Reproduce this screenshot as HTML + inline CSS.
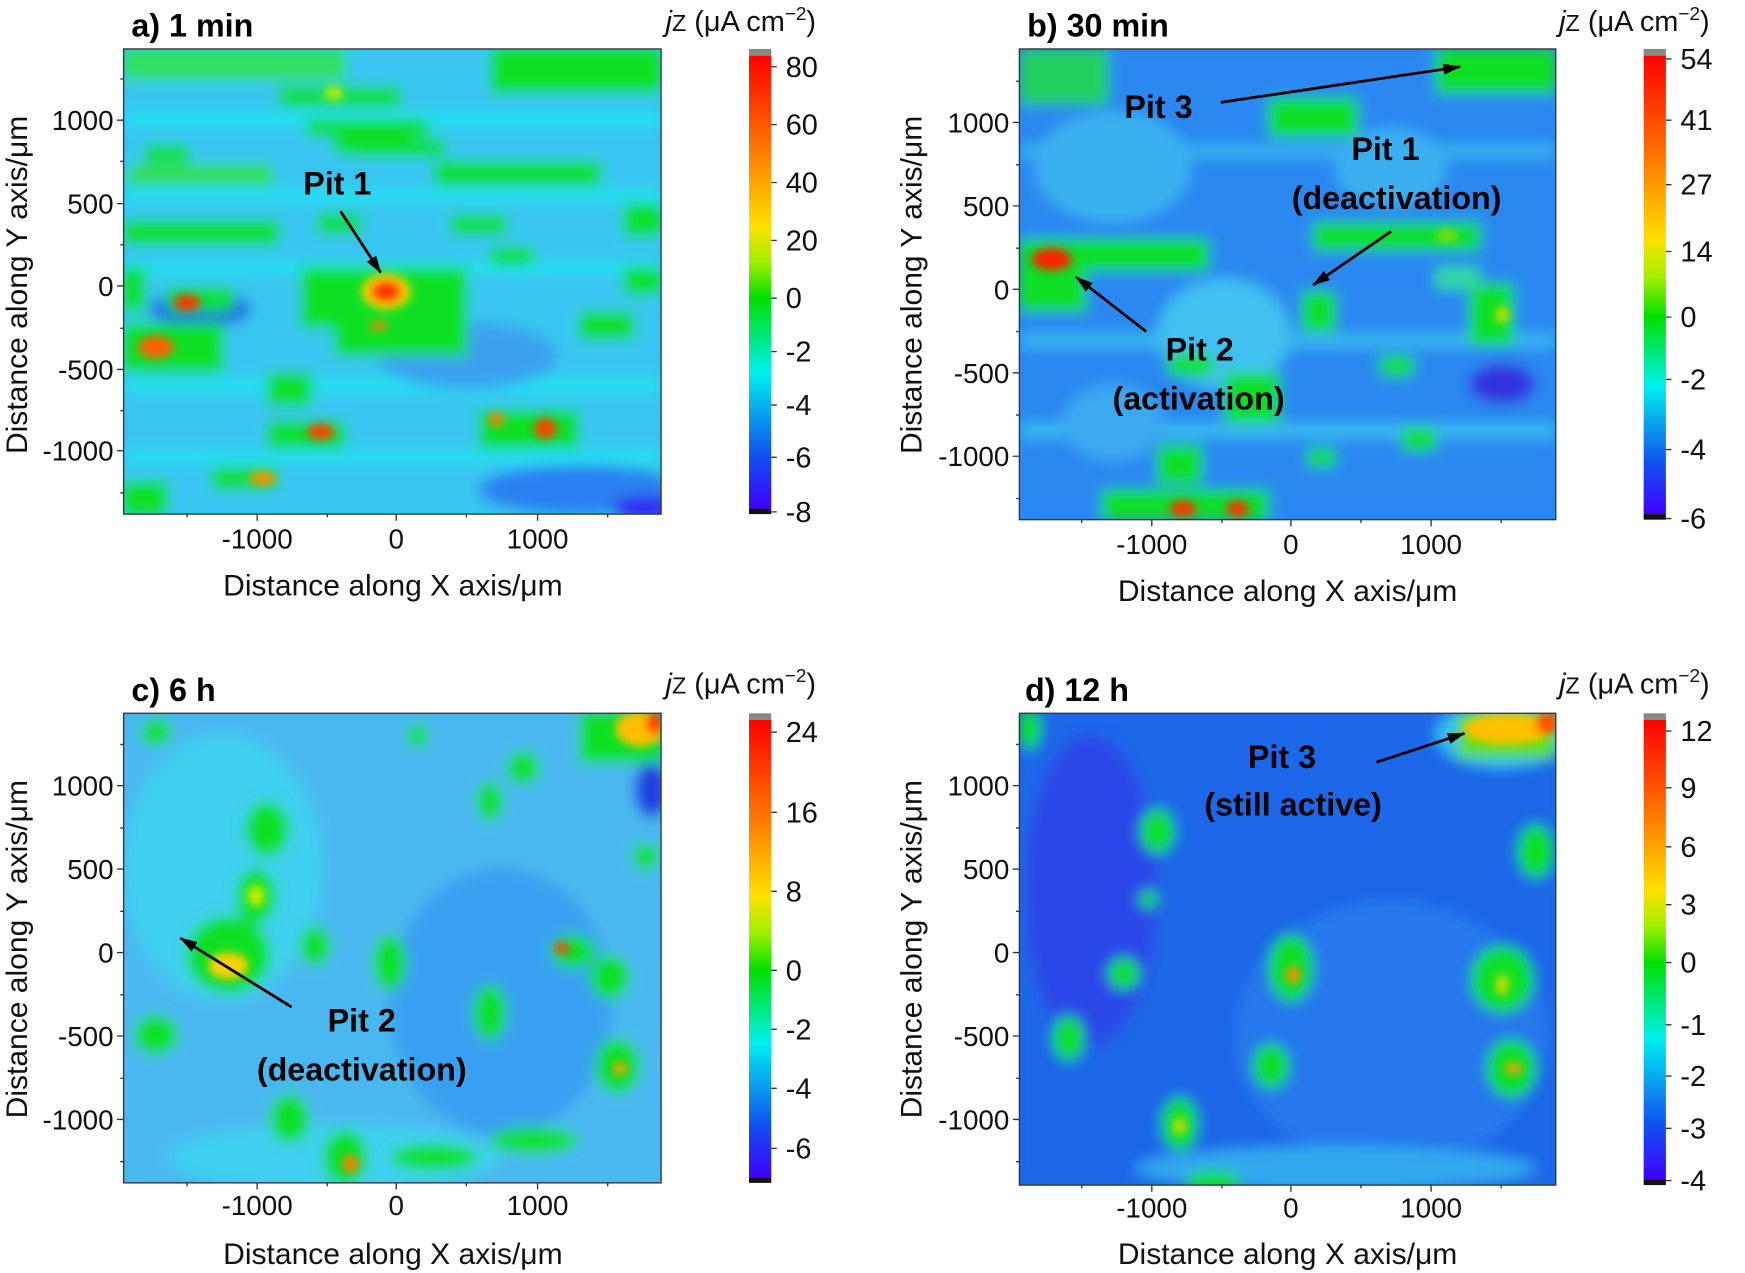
<!DOCTYPE html>
<html><head><meta charset="utf-8"><style>html,body{margin:0;padding:0;background:#fff}svg{display:block}</style></head>
<body>
<svg width="1745" height="1273" viewBox="0 0 1568 1144" xmlns="http://www.w3.org/2000/svg" font-family="Liberation Sans, sans-serif">
<defs>
<filter id="bl" x="-20%" y="-20%" width="140%" height="140%"><feGaussianBlur stdDeviation="6"/></filter>
<filter id="bs" x="-50%" y="-50%" width="200%" height="200%"><feGaussianBlur stdDeviation="4"/></filter>
<clipPath id="ca"><rect x="111" y="44" width="483" height="418"/></clipPath>
<clipPath id="cb"><rect x="916" y="44" width="482" height="423"/></clipPath>
<clipPath id="cc"><rect x="111" y="641" width="483" height="422"/></clipPath>
<clipPath id="cd"><rect x="916" y="641" width="482" height="424"/></clipPath>
<linearGradient id="ga" x1="0" y1="0" x2="0" y2="1"><stop offset="0" stop-color="#ff0000"/><stop offset=".21" stop-color="#ff7a00"/><stop offset=".375" stop-color="#ffe000"/><stop offset=".456" stop-color="#a0f000"/><stop offset=".536" stop-color="#00e000"/><stop offset=".70" stop-color="#00f0f0"/><stop offset=".884" stop-color="#1050f0"/><stop offset="1" stop-color="#4000ff"/></linearGradient>
<linearGradient id="gb" x1="0" y1="0" x2="0" y2="1"><stop offset="0" stop-color="#ff0000"/><stop offset=".228" stop-color="#ff7a00"/><stop offset=".40" stop-color="#ffe000"/><stop offset=".485" stop-color="#a0f000"/><stop offset=".57" stop-color="#00e000"/><stop offset=".72" stop-color="#00f0f0"/><stop offset=".89" stop-color="#1050f0"/><stop offset="1" stop-color="#4000ff"/></linearGradient>
<linearGradient id="gc" x1="0" y1="0" x2="0" y2="1"><stop offset="0" stop-color="#ff0000"/><stop offset=".219" stop-color="#ff7a00"/><stop offset=".383" stop-color="#ffe000"/><stop offset=".465" stop-color="#a0f000"/><stop offset=".547" stop-color="#00e000"/><stop offset=".706" stop-color="#00f0f0"/><stop offset=".887" stop-color="#1050f0"/><stop offset="1" stop-color="#4000ff"/></linearGradient>
<linearGradient id="gd" x1="0" y1="0" x2="0" y2="1"><stop offset="0" stop-color="#ff0000"/><stop offset=".211" stop-color="#ff7a00"/><stop offset=".37" stop-color="#ffe000"/><stop offset=".449" stop-color="#a0f000"/><stop offset=".528" stop-color="#00e000"/><stop offset=".693" stop-color="#00f0f0"/><stop offset=".882" stop-color="#1050f0"/><stop offset="1" stop-color="#4000ff"/></linearGradient>
<marker id="ar2" viewBox="0 0 16 10" markerWidth="16" markerHeight="10" refX="15" refY="5" orient="auto" markerUnits="userSpaceOnUse"><path d="M0,0 L16,5 L0,10 z" fill="#000"/></marker>
</defs>

<!-- Panel a -->
<g clip-path="url(#ca)">
<rect x="111" y="44" width="483" height="418" fill="#30c8f0"/>
<g filter="url(#bl)">
<rect x="111" y="44" width="483" height="418" fill="#38c4f0"/>
<rect x="111" y="100" width="483" height="14" fill="#20e0f0"/>
<rect x="111" y="170" width="483" height="12" fill="#20e0f0"/>
<rect x="111" y="235" width="483" height="12" fill="#20e0f0"/>
<rect x="111" y="340" width="483" height="14" fill="#20e0f0"/>
<rect x="111" y="405" width="483" height="12" fill="#20e0f0"/>
<ellipse cx="180" cy="278" rx="45" ry="16" fill="#2060e8"/>
<ellipse cx="420" cy="320" rx="80" ry="30" fill="#3aa0f0"/>
<ellipse cx="520" cy="440" rx="90" ry="22" fill="#2a80f0"/>
<ellipse cx="580" cy="456" rx="30" ry="10" fill="#3020f0"/>
<rect x="111" y="44" width="200" height="28" fill="#30e060"/>
<rect x="440" y="44" width="154" height="40" fill="#10e020"/>
<rect x="250" y="78" width="110" height="18" fill="#10e020"/>
<rect x="275" y="107" width="110" height="16" fill="#10e020"/>
<rect x="300" y="123" width="70" height="16" fill="#10e020"/>
<rect x="130" y="130" width="40" height="16" fill="#10e020"/>
<rect x="320" y="125" width="80" height="16" fill="#10e020"/>
<rect x="390" y="145" width="150" height="22" fill="#10e020"/>
<rect x="115" y="148" width="130" height="18" fill="#30e040"/>
<rect x="111" y="198" width="140" height="22" fill="#10e020"/>
<rect x="285" y="192" width="40" height="18" fill="#10e020"/>
<rect x="405" y="193" width="50" height="18" fill="#10e020"/>
<rect x="440" y="222" width="40" height="16" fill="#10e020"/>
<rect x="560" y="183" width="34" height="30" fill="#10e020"/>
<rect x="270" y="240" width="150" height="55" fill="#10e020"/>
<rect x="300" y="280" width="120" height="40" fill="#10e020"/>
<rect x="150" y="258" width="60" height="22" fill="#10e020"/>
<rect x="111" y="290" width="90" height="45" fill="#10e020"/>
<rect x="111" y="240" width="20" height="40" fill="#10e020"/>
<rect x="520" y="280" width="50" height="25" fill="#10e020"/>
<rect x="240" y="335" width="40" height="30" fill="#10e020"/>
<rect x="240" y="378" width="70" height="25" fill="#10e020"/>
<rect x="430" y="368" width="90" height="35" fill="#10e020"/>
<rect x="190" y="420" width="60" height="20" fill="#10e020"/>
<rect x="111" y="432" width="40" height="30" fill="#10e020"/>
<rect x="560" y="240" width="34" height="25" fill="#10e020"/>
</g>
<g filter="url(#bs)">
<ellipse cx="347" cy="262" rx="22" ry="16" fill="#ffd000"/>
<ellipse cx="347" cy="262" rx="14" ry="10" fill="#ff3000"/>
<ellipse cx="168" cy="272" rx="12" ry="7" fill="#ff3000"/>
<ellipse cx="140" cy="312" rx="16" ry="10" fill="#ff6000"/>
<ellipse cx="288" cy="388" rx="12" ry="7" fill="#ff4000"/>
<ellipse cx="490" cy="385" rx="10" ry="9" fill="#ff4000"/>
<ellipse cx="446" cy="377" rx="7" ry="6" fill="#ff8000"/>
<ellipse cx="236" cy="430" rx="12" ry="6" fill="#ff9000"/>
<ellipse cx="340" cy="293" rx="8" ry="4" fill="#ff8000"/>
<ellipse cx="300" cy="84" rx="8" ry="6" fill="#c0f000"/>
</g>
</g>
<rect x="111" y="44" width="483" height="418" fill="none" stroke="#333" stroke-width="1.2"/>

<!-- Panel b -->
<g clip-path="url(#cb)">
<rect x="916" y="44" width="482" height="423" fill="#2a88f0"/>
<g filter="url(#bl)">
<rect x="916" y="44" width="482" height="423" fill="#2a88f0"/>
<rect x="916" y="130" width="482" height="12" fill="#38b0f0"/>
<rect x="916" y="300" width="482" height="12" fill="#38b8f0"/>
<rect x="916" y="380" width="482" height="14" fill="#38b8f0"/>
<ellipse cx="1000" cy="150" rx="70" ry="50" fill="#3ab0f0"/>
<ellipse cx="1100" cy="300" rx="60" ry="50" fill="#40c0f0"/>
<ellipse cx="1250" cy="150" rx="50" ry="35" fill="#3ab0f0"/>
<ellipse cx="1350" cy="345" rx="30" ry="18" fill="#3030e0"/>
<ellipse cx="1000" cy="380" rx="45" ry="35" fill="#3aa8f0"/>
<rect x="916" y="44" width="80" height="50" fill="#20d060"/>
<rect x="1290" y="44" width="108" height="40" fill="#10e020"/>
<rect x="1140" y="88" width="80" height="35" fill="#10e020"/>
<rect x="916" y="215" width="170" height="28" fill="#10e020"/>
<rect x="916" y="235" width="60" height="45" fill="#10e020"/>
<rect x="1180" y="200" width="150" height="25" fill="#10e020"/>
<rect x="1170" y="262" width="30" height="36" fill="#10e020"/>
<rect x="1320" y="255" width="40" height="55" fill="#10e020"/>
<rect x="1100" y="335" width="50" height="45" fill="#10e020"/>
<rect x="1050" y="318" width="40" height="20" fill="#10e020"/>
<rect x="1240" y="320" width="30" height="18" fill="#10e020"/>
<rect x="1040" y="400" width="40" height="35" fill="#10e020"/>
<rect x="990" y="440" width="150" height="27" fill="#10e020"/>
<rect x="1175" y="403" width="25" height="16" fill="#10e020"/>
<rect x="1260" y="385" width="30" height="20" fill="#10e020"/>
<rect x="1290" y="240" width="40" height="20" fill="#30d8a0"/>
</g>
<g filter="url(#bs)">
<ellipse cx="945" cy="233" rx="18" ry="10" fill="#ff2000"/>
<ellipse cx="1063" cy="457" rx="12" ry="7" fill="#ff3000"/>
<ellipse cx="1112" cy="457" rx="10" ry="7" fill="#ff3000"/>
<ellipse cx="1350" cy="283" rx="6" ry="8" fill="#c0e000"/>
<ellipse cx="1300" cy="212" rx="10" ry="5" fill="#90e000"/>
</g>
</g>
<rect x="916" y="44" width="482" height="423" fill="none" stroke="#333" stroke-width="1.2"/>

<!-- Panel c -->
<g clip-path="url(#cc)">
<rect x="111" y="641" width="483" height="422" fill="#48b8f0"/>
<g filter="url(#bl)">
<rect x="111" y="641" width="483" height="422" fill="#48b8f0"/>
<ellipse cx="450" cy="900" rx="100" ry="120" fill="#38a0f0"/>
<ellipse cx="200" cy="780" rx="90" ry="120" fill="#40d0f0"/>
<ellipse cx="300" cy="1040" rx="150" ry="30" fill="#40d0f0"/>
<ellipse cx="585" cy="710" rx="15" ry="25" fill="#2040e0"/>
<rect x="520" y="641" width="74" height="45" fill="#10e020"/>
<ellipse cx="140" cy="658" rx="14" ry="12" fill="#10e020"/>
<ellipse cx="240" cy="745" rx="20" ry="25" fill="#10e020"/>
<ellipse cx="230" cy="805" rx="18" ry="25" fill="#10e020"/>
<ellipse cx="205" cy="858" rx="38" ry="35" fill="#10e020"/>
<ellipse cx="140" cy="930" rx="20" ry="18" fill="#10e020"/>
<ellipse cx="283" cy="850" rx="14" ry="18" fill="#10e020"/>
<ellipse cx="350" cy="865" rx="15" ry="25" fill="#10e020"/>
<ellipse cx="440" cy="910" rx="15" ry="25" fill="#10e020"/>
<ellipse cx="440" cy="720" rx="12" ry="18" fill="#10e020"/>
<ellipse cx="470" cy="690" rx="15" ry="15" fill="#10e020"/>
<ellipse cx="515" cy="855" rx="20" ry="15" fill="#10e020"/>
<ellipse cx="548" cy="878" rx="18" ry="20" fill="#10e020"/>
<ellipse cx="555" cy="958" rx="20" ry="25" fill="#10e020"/>
<ellipse cx="260" cy="1005" rx="18" ry="22" fill="#10e020"/>
<ellipse cx="310" cy="1040" rx="20" ry="25" fill="#10e020"/>
<ellipse cx="390" cy="1040" rx="40" ry="12" fill="#10e020"/>
<ellipse cx="480" cy="1025" rx="40" ry="12" fill="#10e020"/>
<ellipse cx="375" cy="661" rx="10" ry="10" fill="#10e020"/>
<ellipse cx="580" cy="770" rx="12" ry="12" fill="#10e020"/>
</g>
<g filter="url(#bs)">
<ellipse cx="575" cy="655" rx="22" ry="16" fill="#ffc000"/>
<ellipse cx="588" cy="650" rx="8" ry="10" fill="#ff4000"/>
<ellipse cx="205" cy="868" rx="18" ry="12" fill="#ffd000"/>
<ellipse cx="505" cy="852" rx="7" ry="5" fill="#ff4000"/>
<ellipse cx="557" cy="960" rx="6" ry="6" fill="#ffa000"/>
<ellipse cx="315" cy="1046" rx="7" ry="8" fill="#ff8000"/>
<ellipse cx="230" cy="805" rx="8" ry="10" fill="#c0f000"/>
</g>
</g>
<rect x="111" y="641" width="483" height="422" fill="none" stroke="#333" stroke-width="1.2"/>

<!-- Panel d -->
<g clip-path="url(#cd)">
<rect x="916" y="641" width="482" height="424" fill="#1e68e8"/>
<g filter="url(#bl)">
<rect x="916" y="641" width="482" height="424" fill="#1e68e8"/>
<ellipse cx="980" cy="800" rx="60" ry="140" fill="#2a48e8"/>
<ellipse cx="1250" cy="930" rx="140" ry="120" fill="#2878ec"/>
<ellipse cx="1200" cy="1050" rx="180" ry="20" fill="#30a8f0"/>
<ellipse cx="1350" cy="660" rx="60" ry="30" fill="#30c0f0"/>
<rect x="1310" y="641" width="88" height="40" fill="#60e000"/>
<ellipse cx="925" cy="655" rx="10" ry="18" fill="#10e020"/>
<ellipse cx="1040" cy="747" rx="15" ry="20" fill="#10e020"/>
<ellipse cx="1032" cy="808" rx="8" ry="8" fill="#10e020"/>
<ellipse cx="1010" cy="875" rx="14" ry="14" fill="#10e020"/>
<ellipse cx="1160" cy="870" rx="20" ry="30" fill="#10e020"/>
<ellipse cx="1350" cy="880" rx="28" ry="30" fill="#10e020"/>
<ellipse cx="960" cy="933" rx="14" ry="20" fill="#10e020"/>
<ellipse cx="1142" cy="958" rx="16" ry="20" fill="#10e020"/>
<ellipse cx="1358" cy="960" rx="22" ry="26" fill="#10e020"/>
<ellipse cx="1380" cy="765" rx="16" ry="24" fill="#10e020"/>
<ellipse cx="1060" cy="1010" rx="16" ry="24" fill="#10e020"/>
<ellipse cx="1090" cy="1062" rx="25" ry="10" fill="#10e020"/>
</g>
<g filter="url(#bs)">
<ellipse cx="1355" cy="655" rx="40" ry="14" fill="#ffc000"/>
<ellipse cx="1390" cy="650" rx="10" ry="10" fill="#ff5000"/>
<ellipse cx="1162" cy="876" rx="6" ry="8" fill="#ff9000"/>
<ellipse cx="1360" cy="960" rx="8" ry="5" fill="#ffa000"/>
<ellipse cx="1350" cy="885" rx="6" ry="10" fill="#c0e000"/>
<ellipse cx="1060" cy="1012" rx="6" ry="8" fill="#c0e000"/>
</g>
</g>
<rect x="916" y="641" width="482" height="424" fill="none" stroke="#333" stroke-width="1.2"/>

<!-- Axes ticks -->
<g stroke="#333" stroke-width="1.2">
<path d="M111,108h-6M111,183h-6M111,257h-6M111,332h-6M111,405h-6M111,71h-3M111,145h-3M111,220h-3M111,295h-3M111,369h-3M111,443h-3"/>
<path d="M231,462v6M356,462v6M483,462v6M168,462v3M294,462v3M419,462v3M546,462v3"/>
<path d="M916,110h-6M916,185h-6M916,260h-6M916,335h-6M916,410h-6M916,73h-3M916,148h-3M916,223h-3M916,298h-3M916,373h-3M916,448h-3"/>
<path d="M1035,467v6M1160,467v6M1286,467v6M972,467v3M1098,467v3M1223,467v3M1349,467v3"/>
<path d="M111,706h-6M111,781h-6M111,856h-6M111,931h-6M111,1006h-6M111,669h-3M111,744h-3M111,819h-3M111,894h-3M111,969h-3M111,1044h-3"/>
<path d="M231,1063v6M356,1063v6M483,1063v6M168,1063v3M294,1063v3M419,1063v3M546,1063v3"/>
<path d="M916,706h-6M916,781h-6M916,856h-6M916,931h-6M916,1006h-6M916,669h-3M916,744h-3M916,819h-3M916,894h-3M916,969h-3M916,1044h-3"/>
<path d="M1035,1065v6M1160,1065v6M1286,1065v6M972,1065v3M1098,1065v3M1223,1065v3M1349,1065v3"/>
</g>

<g font-size="25" fill="#111">
<g text-anchor="end">
<text x="102" y="117">1000</text><text x="102" y="192">500</text><text x="102" y="266">0</text><text x="102" y="341">-500</text><text x="102" y="414">-1000</text>
<text x="907" y="119">1000</text><text x="907" y="194">500</text><text x="907" y="269">0</text><text x="907" y="344">-500</text><text x="907" y="419">-1000</text>
<text x="102" y="715">1000</text><text x="102" y="790">500</text><text x="102" y="865">0</text><text x="102" y="940">-500</text><text x="102" y="1015">-1000</text>
<text x="907" y="715">1000</text><text x="907" y="790">500</text><text x="907" y="865">0</text><text x="907" y="940">-500</text><text x="907" y="1015">-1000</text>
</g>
<g text-anchor="middle">
<text x="231" y="493">-1000</text><text x="356" y="493">0</text><text x="483" y="493">1000</text>
<text x="1035" y="498">-1000</text><text x="1160" y="498">0</text><text x="1286" y="498">1000</text>
<text x="231" y="1092">-1000</text><text x="356" y="1092">0</text><text x="483" y="1092">1000</text>
<text x="1035" y="1094">-1000</text><text x="1160" y="1094">0</text><text x="1286" y="1094">1000</text>
</g>
<g text-anchor="middle" font-size="27">
<text x="353" y="535">Distance along X axis/μm</text>
<text x="1157" y="540">Distance along X axis/μm</text>
<text x="353" y="1136">Distance along X axis/μm</text>
<text x="1157" y="1136">Distance along X axis/μm</text>
<text transform="translate(24,256) rotate(-90)">Distance along Y axis/μm</text>
<text transform="translate(828,256) rotate(-90)">Distance along Y axis/μm</text>
<text transform="translate(24,853) rotate(-90)">Distance along Y axis/μm</text>
<text transform="translate(828,853) rotate(-90)">Distance along Y axis/μm</text>
</g>
</g>

<!-- Titles -->
<g font-size="29" font-weight="bold" fill="#000">
<text x="118" y="33">a) 1 min</text>
<text x="923" y="33">b) 30 min</text>
<text x="118" y="630">c) 6 h</text>
<text x="921" y="630">d) 12 h</text>
</g>
<g font-size="26" fill="#111">
<text x="598" y="28"><tspan font-style="italic">j</tspan><tspan font-size="21">Z</tspan> (μA cm<tspan font-size="17" dy="-10">−2</tspan><tspan dy="10">)</tspan></text>
<text x="1401" y="28"><tspan font-style="italic">j</tspan><tspan font-size="21">Z</tspan> (μA cm<tspan font-size="17" dy="-10">−2</tspan><tspan dy="10">)</tspan></text>
<text x="598" y="623"><tspan font-style="italic">j</tspan><tspan font-size="21">Z</tspan> (μA cm<tspan font-size="17" dy="-10">−2</tspan><tspan dy="10">)</tspan></text>
<text x="1401" y="623"><tspan font-style="italic">j</tspan><tspan font-size="21">Z</tspan> (μA cm<tspan font-size="17" dy="-10">−2</tspan><tspan dy="10">)</tspan></text>
</g>

<!-- Colorbars -->
<rect x="673" y="44" width="20" height="6" fill="#888"/><rect x="673" y="50" width="20" height="407" fill="url(#ga)"/><rect x="673" y="457" width="20" height="5" fill="#111"/>
<rect x="1477" y="44" width="20" height="6" fill="#888"/><rect x="1477" y="50" width="20" height="412" fill="url(#gb)"/><rect x="1477" y="462" width="20" height="5" fill="#111"/>
<rect x="673" y="641" width="20" height="6" fill="#888"/><rect x="673" y="647" width="20" height="411" fill="url(#gc)"/><rect x="673" y="1058" width="20" height="5" fill="#111"/>
<rect x="1477" y="641" width="20" height="6" fill="#888"/><rect x="1477" y="647" width="20" height="413" fill="url(#gd)"/><rect x="1477" y="1060" width="20" height="5" fill="#111"/>
<g stroke="#333" stroke-width="1.2">
<path d="M693,60h5M693,112h5M693,164h5M693,216h5M693,268h5M693,316h5M693,364h5M693,411h5M693,460h5"/>
<path d="M1497,53h5M1497,108h5M1497,166h5M1497,226h5M1497,285h5M1497,341h5M1497,404h5M1497,466h5"/>
<path d="M693,658h5M693,730h5M693,801h5M693,872h5M693,925h5M693,978h5M693,1032h5"/>
<path d="M1497,657h5M1497,708h5M1497,761h5M1497,813h5M1497,865h5M1497,921h5M1497,967h5M1497,1014h5M1497,1061h5"/>
</g>
<g font-size="26" fill="#111">
<text x="706" y="69">80</text><text x="706" y="121">60</text><text x="706" y="173">40</text><text x="706" y="225">20</text><text x="706" y="277">0</text><text x="706" y="325">-2</text><text x="706" y="373">-4</text><text x="706" y="420">-6</text><text x="706" y="469">-8</text>
<text x="1510" y="62">54</text><text x="1510" y="117">41</text><text x="1510" y="175">27</text><text x="1510" y="235">14</text><text x="1510" y="294">0</text><text x="1510" y="350">-2</text><text x="1510" y="413">-4</text><text x="1510" y="475">-6</text>
<text x="706" y="667">24</text><text x="706" y="739">16</text><text x="706" y="810">8</text><text x="706" y="881">0</text><text x="706" y="934">-2</text><text x="706" y="987">-4</text><text x="706" y="1041">-6</text>
<text x="1510" y="666">12</text><text x="1510" y="717">9</text><text x="1510" y="770">6</text><text x="1510" y="822">3</text><text x="1510" y="874">0</text><text x="1510" y="930">-1</text><text x="1510" y="976">-2</text><text x="1510" y="1023">-3</text><text x="1510" y="1070">-4</text>
</g>

<!-- Annotations -->
<g stroke="#000" stroke-width="2.5" fill="none">
<line x1="306" y1="190" x2="342" y2="245" marker-end="url(#ar2)"/>
<line x1="1097" y1="92" x2="1312" y2="60" marker-end="url(#ar2)"/>
<line x1="1250" y1="208" x2="1180" y2="256" marker-end="url(#ar2)"/>
<line x1="1030" y1="298" x2="967" y2="249" marker-end="url(#ar2)"/>
<line x1="262" y1="905" x2="162" y2="843" marker-end="url(#ar2)"/>
<line x1="1237" y1="685" x2="1316" y2="659" marker-end="url(#ar2)"/>
</g>
<g font-size="29" font-weight="bold" fill="#000" text-anchor="middle">
<text x="303" y="175">Pit 1</text>
<text x="1041" y="106">Pit 3</text>
<text x="1245" y="144">Pit 1</text>
<text x="1255" y="188">(deactivation)</text>
<text x="1078" y="324">Pit 2</text>
<text x="1077" y="368">(activation)</text>
<text x="325" y="927">Pit 2</text>
<text x="325" y="971">(deactivation)</text>
<text x="1152" y="690">Pit 3</text>
<text x="1162" y="733">(still active)</text>
</g>
</svg>
</body></html>
